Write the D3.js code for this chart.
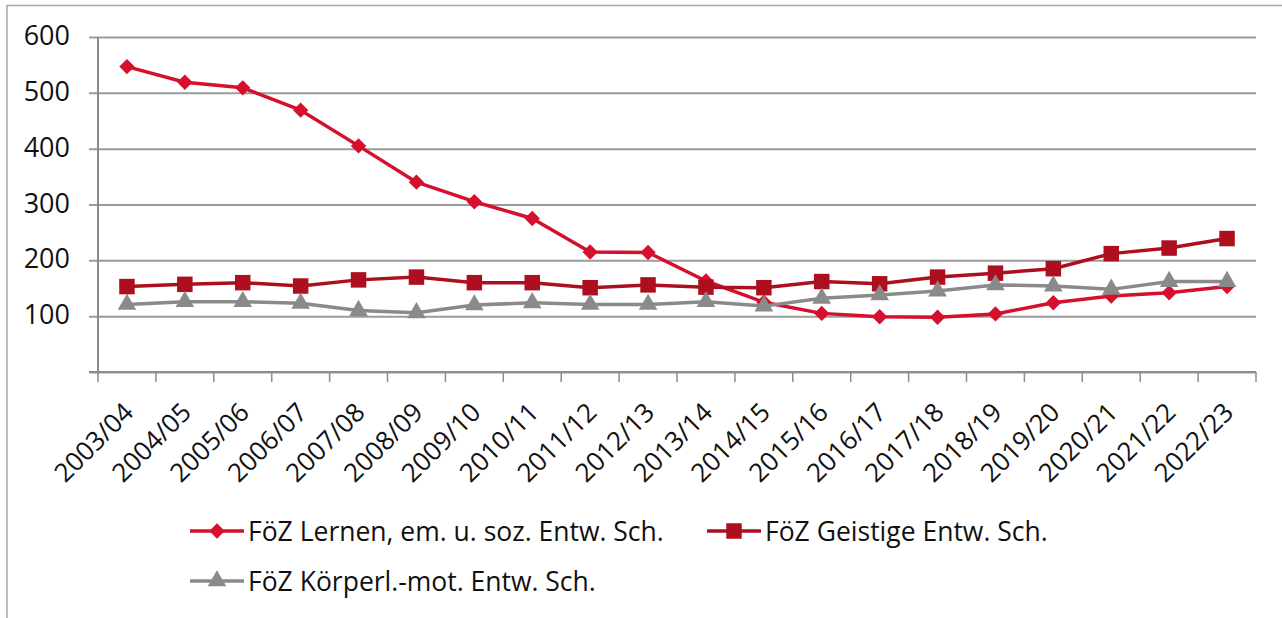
<!DOCTYPE html>
<html>
<head>
<meta charset="utf-8">
<script src="https://cdn.jsdelivr.net/npm/d3@7"></script>
<style>
  body { margin: 0; background: #fff; }
  text { font-family: "Open Sans", "Noto Sans", sans-serif; fill: #111; }
</style>
</head>
<body>
<div id="chart-area"></div>
<script>
// School years
var years = ["2003/04", "2004/05", "2005/06", "2006/07", "2007/08", "2008/09", "2009/10",
    "2010/11", "2011/12", "2012/13", "2013/14", "2014/15", "2015/16", "2016/17",
    "2017/18", "2018/19", "2019/20", "2020/21", "2021/22", "2022/23"];

// Series values
var lernen = [547, 519, 509, 469, 405, 340, 305, 275, 215, 214, 163, 125, 105, 99,
    98, 104, 124, 136, 142, 153];
var geistige = [153, 157, 160, 154, 165, 170, 160, 160, 151, 156, 152, 151, 162, 158,
    170, 177, 185, 212, 222, 239];
var koerper = [121, 126, 126, 123, 110, 106, 120, 124, 121, 121, 126, 118, 132, 138,
    145, 156, 154, 148, 162, 162];

var seriesNames = ["FöZ Lernen, em. u. soz. Entw. Sch.", "FöZ Geistige Entw. Sch.",
    "FöZ Körperl.-mot. Entw. Sch."];

var yTicks = [0, 100, 200, 300, 400, 500, 600];

var series = [
    { name: seriesNames[0], values: lernen, color: "#d50f2c", symbol: d3.symbolDiamond2, size: 150 },
    { name: seriesNames[1], values: geistige, color: "#ad0f1f", symbol: d3.symbolSquare, size: 240 },
    { name: seriesNames[2], values: koerper, color: "#8a8a8a", symbol: d3.symbolTriangle, size: 150 }
];

var W = 1282, H = 618;
var margin = { left: 98, right: 26, top: 37, bottom: 246 };
var width = W - margin.left - margin.right,
    height = H - margin.top - margin.bottom;

var svg = d3.select("#chart-area").append("svg")
    .attr("width", W)
    .attr("height", H);

// outer frame (left + top only visible)
svg.append("path")
    .attr("d", "M7,618 V5.5 H1282")
    .attr("fill", "none")
    .attr("stroke", "#a6a6a6")
    .attr("stroke-width", 1.5);

var g = svg.append("g")
    .attr("transform", "translate(" + margin.left + "," + margin.top + ")");

// Scales
var x = d3.scaleBand().domain(years).range([0, width]).padding(0);
var y = d3.scaleLinear().domain([0, 600]).range([height, 0]);

// Gridlines + y axis
var yAxisCall = d3.axisLeft(y)
    .tickValues(yTicks)
    .tickSize(-width)
    .tickPadding(28)
    .tickFormat(function(d) { return d === 0 ? "" : d; });

var yAxis = g.append("g")
    .attr("class", "y axis")
    .call(yAxisCall);
yAxis.select(".domain").remove();
yAxis.selectAll(".tick line")
    .attr("x1", -9)
    .attr("stroke", "#9b9b9b")
    .attr("stroke-width", 2);
yAxis.selectAll(".tick text")
    .attr("font-size", "27px")
    .attr("dy", "0.28em")
    .attr("fill", "#111");

g.append("line")
    .attr("x1", 0).attr("x2", 0)
    .attr("y1", 0).attr("y2", height)
    .attr("stroke", "#8c8c8c")
    .attr("stroke-width", 2);

// X axis: ticks at band boundaries
var xAxis = g.append("g")
    .attr("class", "x axis")
    .attr("transform", "translate(0," + height + ")");

xAxis.append("line")
    .attr("x1", -9).attr("x2", width)
    .attr("stroke", "#8c8c8c")
    .attr("stroke-width", 2);

xAxis.selectAll(".xtick")
    .data(years.concat(["end"]))
    .enter().append("line")
    .attr("class", "xtick")
    .attr("x1", function(d, i) { return i * x.bandwidth(); })
    .attr("x2", function(d, i) { return i * x.bandwidth(); })
    .attr("y1", 0).attr("y2", 10)
    .attr("stroke", "#8c8c8c")
    .attr("stroke-width", 1.5);

xAxis.selectAll(".xlabel")
    .data(years)
    .enter().append("text")
    .attr("class", "xlabel")
    .attr("transform", function(d) {
        return "translate(" + (x(d) + x.bandwidth() / 2 + 8) + ",42) rotate(-45)";
    })
    .attr("text-anchor", "end")
    .attr("font-size", "26px")
    .text(function(d) { return d; });

// Lines + markers
var line = d3.line()
    .x(function(d, i) { return x(years[i]) + x.bandwidth() / 2; })
    .y(function(d) { return y(d); });

series.forEach(function(s) {
    g.append("path")
        .datum(s.values)
        .attr("fill", "none")
        .attr("stroke", s.color)
        .attr("stroke-width", 3.5)
        .attr("stroke-linejoin", "round")
        .attr("d", line);

    g.selectAll(null)
        .data(s.values)
        .enter().append("path")
        .attr("transform", function(d, i) {
            return "translate(" + (x(years[i]) + x.bandwidth() / 2) + "," + y(d) + ")";
        })
        .attr("fill", s.color)
        .attr("d", d3.symbol().type(s.symbol).size(s.size));
});

// Legend
var legendPos = [[190, 531], [707, 531], [190, 581]];
var legend = svg.selectAll(".legend")
    .data(series)
    .enter().append("g")
    .attr("class", "legend")
    .attr("transform", function(d, i) {
        return "translate(" + legendPos[i][0] + "," + legendPos[i][1] + ")";
    });

legend.append("line")
    .attr("x1", 0).attr("x2", 54)
    .attr("stroke", function(d) { return d.color; })
    .attr("stroke-width", 3.5);

legend.append("path")
    .attr("transform", "translate(27,0)")
    .attr("fill", function(d) { return d.color; })
    .attr("d", function(d) { return d3.symbol().type(d.symbol).size(d.size)(); });

legend.append("text")
    .attr("x", 58)
    .attr("dy", "0.36em")
    .attr("font-size", "26.5px")
    .text(function(d) { return d.name; });
</script>
</body>
</html>
